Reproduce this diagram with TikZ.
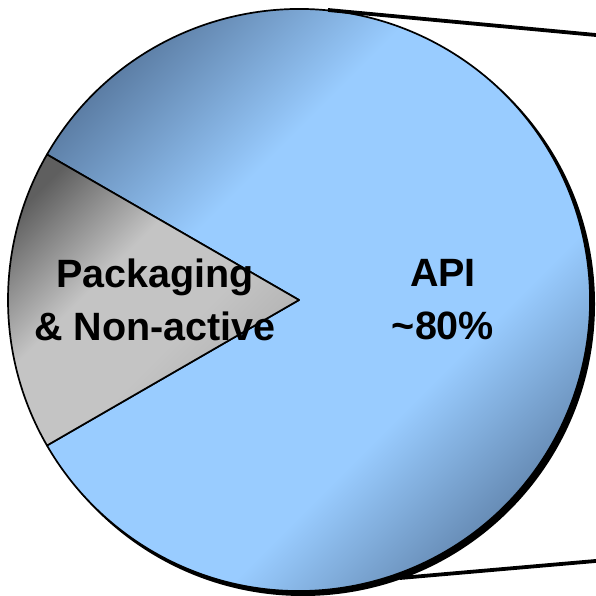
\documentclass[tikz,border=0pt]{standalone}
\usepackage{fontspec}
\setmainfont{Liberation Sans}
\usetikzlibrary{calc}
\definecolor{bdark}{RGB}{86,118,156}
\definecolor{blight}{RGB}{153,204,255}
\definecolor{gdark}{RGB}{95,95,95}
\definecolor{gmid}{RGB}{172,172,172}
\definecolor{glight}{RGB}{196,196,196}
\pgfdeclareverticalshading{blueshade}{100bp}{color(0bp)=(bdark); color(25bp)=(bdark); color(40bp)=(blight); color(62bp)=(blight); color(77bp)=(bdark); color(100bp)=(bdark)}
\pgfdeclareverticalshading{grayshade}{100bp}{color(0bp)=(gmid); color(25bp)=(gmid); color(42bp)=(glight); color(58bp)=(glight); color(76bp)=(gdark); color(100bp)=(gdark)}
\tikzset{
  slice/.style={draw=black, line width=1.7pt, line join=round},
  label/.style={font=\fontsize{39.5}{53}\selectfont\bfseries, align=center, text=black},
  zoomline/.style={draw=black, line width=3.8pt}
}
\begin{document}
\begin{tikzpicture}[x=1pt,y=1pt]
\useasboundingbox (0,0) rectangle (596,595);
\clip (0,0) rectangle (596,595);
\coordinate (c) at (299,295);
% shadow
\fill[black] ($(c)+(4,-4)$) circle (292);
% blue slice
\path[slice, shading=blueshade, shading angle=45] (c) -- ++(150:291) arc (150:-150:291) -- cycle;
% gray slice
\path[slice, shading=grayshade, shading angle=45] (c) -- ++(150:291) arc (150:210:291) -- cycle;
% zoom lines
\coordinate (t1) at (328,585);
\coordinate (t2) at (600,559.6);
\coordinate (b1) at (400,17);
\coordinate (b2) at (600,34.4);
\draw[zoomline] (t1) -- (t2);
\draw[zoomline] (b1) -- (b2);
% labels
\node[label] (pk) at (155,295) {Packaging\\\& Non-active};
\node[label] (api) at (443,295) {API\\\textasciitilde 80\%};
\end{tikzpicture}
\end{document}
